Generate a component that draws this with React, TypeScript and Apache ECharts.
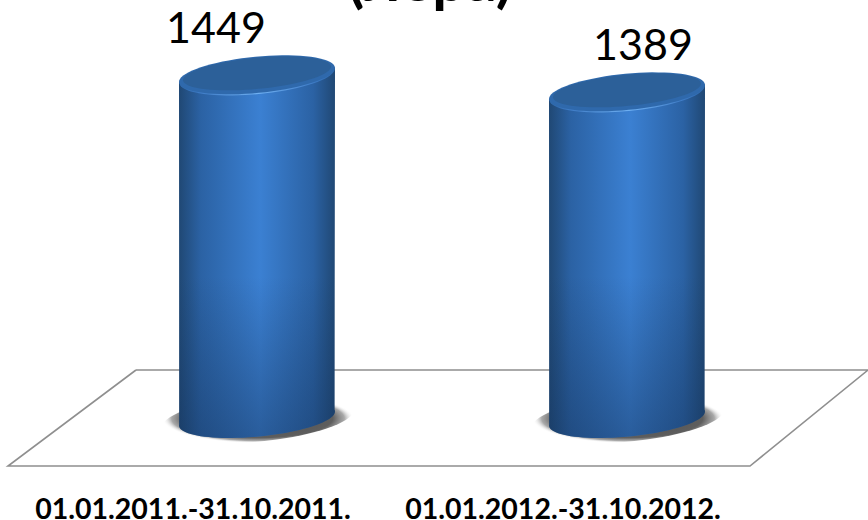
import React, { useEffect, useRef } from "react";
import * as echarts from "echarts";

const categories = ["01.01.2011.-31.10.2011.", "01.01.2012.-31.10.2012."];
const values = [1449, 1389];
const titleText = "(лера)";
const floorPoints = [[136, 370], [868, 370], [750, 466], [8, 466], [136, 370]];
const labelShift = [-41, 16];

const RX = 78.3;
const RY = 18.1;
const TILT = (5.42 * Math.PI) / 180;
const HW = 78;
const LIFT = 7;

function arcPoints(cx: number, cy: number, a: number, b: number, from: number, to: number, n = 48) {
  const pts: number[][] = [];
  for (let k = 0; k <= n; k++) {
    const t = from + ((to - from) * k) / n;
    const x = a * Math.cos(t);
    const y = b * Math.sin(t);
    pts.push([cx + x * Math.cos(TILT) + y * Math.sin(TILT), cy - x * Math.sin(TILT) + y * Math.cos(TILT)]);
  }
  return pts;
}
const poly = (points: number[][], style: any) => ({ type: "polygon", shape: { points }, style });
const ring = (cx: number, cy: number, a: number, b: number) => arcPoints(cx, cy, a, b, 0, Math.PI * 2, 72);

const side = (a: string, b: string, c: string) => ({
  type: "linear", x: 0, y: 0, x2: 1, y2: 0,
  colorStops: [
    { offset: 0, color: a },
    { offset: 0.14, color: b },
    { offset: 0.52, color: c },
    { offset: 0.86, color: b },
    { offset: 1, color: a },
  ],
});

export default function App() {
  const ref = useRef<HTMLDivElement>(null);
  useEffect(() => {
    const chart = echarts.init(ref.current!, undefined, { renderer: "svg" });
    chart.setOption({
      animation: false,
      backgroundColor: "#ffffff",
      title: {
        text: titleText,
        left: 430,
        textAlign: "center",
        top: -52,
        padding: 0,
        textStyle: { fontFamily: "Lato", fontWeight: "bold", fontSize: 60, color: "#000" },
      },
      grid: [
        { left: 72, width: 740, top: 32, height: 397, outerBoundsMode: "none" },
        { left: 8, width: 740, top: 32, height: 465, outerBoundsMode: "none" },
      ],
      xAxis: [
        { type: "category", gridIndex: 0, data: categories, axisLine: { show: false }, axisTick: { show: false }, axisLabel: { show: false } },
        {
          type: "category", gridIndex: 1, data: categories,
          axisLine: { show: false }, axisTick: { show: false },
          axisLabel: { margin: 0, fontFamily: "Lato", fontWeight: "bold", fontSize: 28.5, color: "#000", lineHeight: 22, interval: 0, hideOverlap: false },
        },
      ],
      yAxis: [
        { type: "value", gridIndex: 0, min: 200, max: 1600, show: false, splitLine: { show: false } },
        { type: "value", gridIndex: 1, min: 0, max: 1, show: false, splitLine: { show: false } },
      ],
      graphic: [
        {
          type: "polyline", z: 0,
          shape: { points: floorPoints },
          style: { stroke: "#8f8f8f", lineWidth: 1.6, fill: "none" },
        },
      ],
      series: [
        {
          type: "custom",
          xAxisIndex: 0, yAxisIndex: 0, z: 5, clip: false,
          data: values.map((v, i) => [i, v]),
          renderItem: (_p: any, api: any) => {
            const i = api.value(0);
            const [cx, top] = api.coord([i, api.value(1)]);
            const [, axisBottom] = api.coord([i, 200]);
            const base = axisBottom - 10.5;
            const body = [
              [cx - HW, top + LIFT],
              [cx + HW, top - LIFT],
              ...arcPoints(cx, base, RX, RY, -TILT * 0.9, Math.PI + TILT * 0.9),
            ];
            const fade = 1 - Math.min(150 / (base - top), 1);
            const children: any[] = [
              poly(ring(cx + 1, base, RX + 18, RY + 5), {
                fill: {
                  type: "radial", x: 0.5, y: 0.5, r: 0.5,
                  colorStops: [
                    { offset: 0, color: "#4a4a4a" },
                    { offset: 0.78, color: "#5e5e5e" },
                    { offset: 0.9, color: "rgba(140,140,140,0.75)" },
                    { offset: 1, color: "rgba(255,255,255,0)" },
                  ],
                },
              }),
              poly(body, { fill: side("#204874", "#2b62a4", "#3b80d2") }),
              poly(body, {
                fill: {
                  type: "linear", x: 0, y: 0, x2: 0, y2: 1,
                  colorStops: [
                    { offset: 0, color: "rgba(20,50,90,0)" },
                    { offset: fade, color: "rgba(20,50,90,0)" },
                    { offset: 1, color: "rgba(20,50,90,0.45)" },
                  ],
                },
              }),
              poly(ring(cx, top + 1.2, RX - 0.5, RY), {
                fill: side("#2d68ac", "#3f7cc6", "#6fb0f2"),
              }),
              poly(ring(cx, top, RX, RY), { fill: "#2f69ac" }),
              poly(ring(cx, top - 1.5, RX - 4, RY - 2.5), { fill: "#2c6099" }),
              {
                type: "text",
                style: {
                  text: String(api.value(1)),
                  x: cx + labelShift[i],
                  y: top - 48,
                  align: "center",
                  verticalAlign: "middle",
                  fontFamily: "Lato",
                  fontSize: 43,
                  fill: "#000",
                },
              },
            ];
            return { type: "group", children };
          },
        },
      ],
    });
    return () => chart.dispose();
  }, []);
  return <div ref={ref} style={{ position: "fixed", left: 0, top: 0, width: 868, height: 520 }} />;
}
